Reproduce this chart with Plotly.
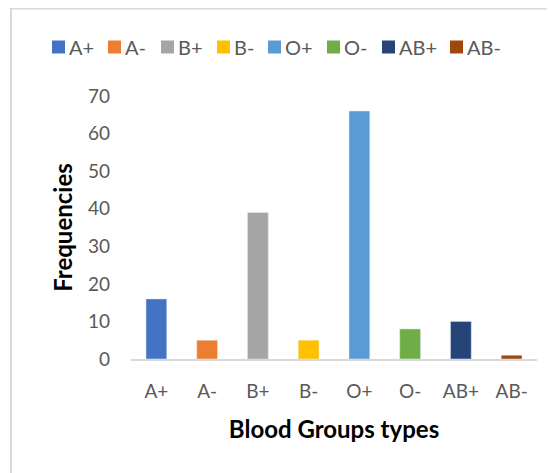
import plotly.graph_objects as go

# ---- data ----
categories = ["A+", "A-", "B+", "B-", "O+", "O-", "AB+", "AB-"]
frequencies = [16, 5, 39, 5, 66, 8, 10, 1]
y_ticks = [0, 10, 20, 30, 40, 50, 60, 70]

# ---- style ----
colors = ["#4472C4", "#ED7D31", "#A5A5A5", "#FFC000",
          "#5B9BD5", "#70AD47", "#264478", "#9E480E"]
FONT = "Lato"
GREY = "#595959"

W, H = 555, 473
OFF = 8  # page body margin offset
# plot area in screen pixels
PX_L, PX_R, PX_T, PX_B = 131, 537, 96, 359
ML, MT = PX_L - OFF, PX_T - OFF
MR, MB = W - (PX_R - OFF), H - (PX_B - OFF)
PW, PH = PX_R - PX_L, PX_B - PX_T


def px_to_paper_x(px):
    return (px - PX_L) / PW


def px_to_paper_y(py):
    return (PX_B - py) / PH


fig = go.Figure()
for cat, val, col in zip(categories, frequencies, colors):
    fig.add_trace(go.Bar(x=[cat], y=[val], name=cat, marker_color=col,
                         width=0.41, showlegend=False))

# manual single-row legend (Excel style)
legend_square_px = [52, 108, 161, 217, 268, 327, 382, 450]
legend_y_px = 47
shapes = []
annotations = []
for cat, col, lx in zip(categories, colors, legend_square_px):
    shapes.append(dict(type="rect", xref="paper", yref="paper",
                       x0=px_to_paper_x(lx), x1=px_to_paper_x(lx + 13),
                       y0=px_to_paper_y(legend_y_px + 6.5),
                       y1=px_to_paper_y(legend_y_px - 6.5),
                       fillcolor=col, line=dict(width=0)))
    annotations.append(dict(text=cat, xref="paper", yref="paper",
                            x=px_to_paper_x(lx + 16), y=px_to_paper_y(legend_y_px),
                            xanchor="left", yanchor="middle", showarrow=False,
                            borderpad=0,
                            font=dict(family=FONT, size=20, color=GREY)))

# chart frame (left and top edges visible)
shapes.append(dict(type="line", xref="paper", yref="paper",
                   x0=px_to_paper_x(11), x1=px_to_paper_x(11),
                   y0=px_to_paper_y(8.5), y1=px_to_paper_y(H + 20),
                   line=dict(color="#D9D9D9", width=2)))
shapes.append(dict(type="line", xref="paper", yref="paper",
                   x0=px_to_paper_x(10), x1=px_to_paper_x(W + 20),
                   y0=px_to_paper_y(8.5), y1=px_to_paper_y(8.5),
                   line=dict(color="#D9D9D9", width=2)))

fig.update_layout(
    width=W, height=H,
    margin=dict(l=ML, r=MR, t=MT, b=MB),
    paper_bgcolor="white", plot_bgcolor="white",
    barmode="overlay",
    shapes=shapes, annotations=annotations,
    font=dict(family=FONT, color=GREY),
)
fig.update_xaxes(
    categoryorder="array", categoryarray=categories,
    showline=True, linecolor="#D9D9D9", linewidth=2,
    showgrid=False, ticks="", zeroline=False,
    tickfont=dict(family=FONT, size=19, color=GREY),
    ticklabelstandoff=14,
    title=dict(text="<b>Blood Groups types</b>", standoff=20,
               font=dict(family=FONT, size=24, color="black")),
)
fig.update_yaxes(
    range=[0, 70], tickvals=y_ticks, showgrid=False, zeroline=False,
    showline=False, ticks="",
    tickfont=dict(family=FONT, size=19, color=GREY),
    ticklabelstandoff=20,
    title=dict(text="<b>Frequencies</b>", standoff=8,
               font=dict(family=FONT, size=24, color="black")),
)

fig.write_html("out.html")
